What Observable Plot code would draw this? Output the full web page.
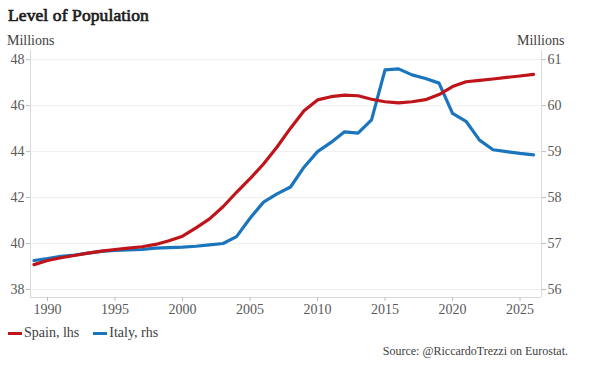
<!DOCTYPE html>
<html>
<head>
<meta charset="utf-8">
<script src="https://cdn.jsdelivr.net/npm/d3@7"></script>
<script src="https://cdn.jsdelivr.net/npm/@observablehq/plot@0.6"></script>
<style>
  html, body { margin: 0; padding: 0; background: #fff; font-family: "Liberation Serif", "Times New Roman", "DejaVu Serif", serif; }
  #wrap { position: relative; width: 606px; height: 378px; font-family: "Liberation Serif", "Times New Roman", "DejaVu Serif", serif; }
  .abs { position: absolute; white-space: nowrap; font-family: "Liberation Serif", "Times New Roman", serif; }
  #title { left: 8px; top: 5px; font-size: 17.5px; font-weight: normal; color: #1c1c1c; -webkit-text-stroke: 0.7px #1c1c1c; letter-spacing: 0.1px; }
  .unit { top: 33px; font-size: 14px; color: #404040; }
  #chart { position: absolute; left: 0; top: 44px; }
  #legend { left: 8px; top: 325px; font-size: 14px; color: #404040; display: flex; align-items: center; }
  .sw { display: inline-block; width: 14px; height: 3px; margin-right: 2px; }
  #source { right: 38px; top: 344px; font-size: 12px; color: #404040; }
  svg text { font-family: "Liberation Serif", "Times New Roman", serif; }
</style>
</head>
<body>
<div id="wrap">
  <div id="title" class="abs">Level of Population</div>
  <div class="abs unit" style="left:7px">Millions</div>
  <div class="abs unit" style="left:517px">Millions</div>
  <div id="chart"></div>
  <div id="legend" class="abs">
    <span class="sw" style="background:#c0141b"></span><span>Spain, lhs</span>
    <span class="sw" style="background:#1a75bc;margin-left:14px"></span><span>Italy, rhs</span>
  </div>
  <div id="source" class="abs">Source: @RiccardoTrezzi on Eurostat.</div>
</div>
<script>
const years = [1989,1990,1991,1992,1993,1994,1995,1996,1997,1998,1999,2000,2001,2002,2003,2004,2005,2006,2007,2008,2009,2010,2011,2012,2013,2014,2015,2016,2017,2018,2019,2020,2021,2022,2023,2024,2025,2026];
const spain = [39.08,39.26,39.38,39.48,39.58,39.67,39.74,39.80,39.86,39.96,40.12,40.32,40.68,41.07,41.60,42.23,42.82,43.46,44.20,45.02,45.78,46.25,46.39,46.46,46.43,46.28,46.17,46.12,46.17,46.26,46.48,46.83,47.04,47.10,47.16,47.23,47.29,47.36];
const italy = [56.63,56.67,56.72,56.75,56.79,56.83,56.85,56.86,56.87,56.90,56.91,56.92,56.94,56.97,57.00,57.15,57.55,57.90,58.08,58.23,58.66,59.00,59.20,59.43,59.40,59.69,60.78,60.80,60.67,60.59,60.49,59.83,59.66,59.25,59.04,59.00,58.96,58.93];
const leftTicks = [38,40,42,44,46,48];
const rightTicks = [56,57,58,59,60,61];
const xTicks = [1990,1995,2000,2005,2010,2015,2020,2025];

// right axis (Italy) mapped onto the left scale: 56 -> 38, 61 -> 48
const toLeft = v => 38 + 2 * (v - 56);
const spainData = years.map((year, i) => ({year, value: spain[i]}));
const italyData = years.map((year, i) => ({year, value: toLeft(italy[i])}));

const xMin = 1988.74, xMax = 2026.59, yMin = 37.65, yMax = 48.4;

const chart = Plot.plot({
  width: 606,
  height: 280,
  marginLeft: 30,
  marginRight: 65,
  marginTop: 6,
  marginBottom: 27,
  x: {domain: [xMin, xMax]},
  y: {domain: [yMin, yMax]},
  style: {fontFamily: "'Liberation Serif', 'Times New Roman', serif", fontSize: "14px", background: "transparent", color: "#595959"},
  marks: [
    Plot.gridY(leftTicks, {stroke: "#efefef", strokeOpacity: 1}),
    Plot.ruleX([xMin, xMax], {stroke: "#d9d9d9"}),
    Plot.ruleY([yMin], {stroke: "#d9d9d9"}),
    Plot.axisY(leftTicks, {anchor: "left", tickSize: 4, tickPadding: 2, stroke: "#bdbdbd", fill: "#595959", label: null}),
    Plot.axisY(rightTicks.map(toLeft), {anchor: "right", tickSize: 4, tickPadding: 2, stroke: "#bdbdbd", fill: "#595959", label: null,
      tickFormat: d => String(rightTicks[leftTicks.indexOf(d)])}),
    Plot.axisX(xTicks, {tickSize: 4, tickPadding: 3, stroke: "#bdbdbd", fill: "#595959", label: null, tickFormat: d => String(d)}),
    Plot.lineY(italyData, {x: "year", y: "value", stroke: "#1a75bc", strokeWidth: 3.2}),
    Plot.lineY(spainData, {x: "year", y: "value", stroke: "#c0141b", strokeWidth: 3.2})
  ]
});
document.getElementById("chart").appendChild(chart);
</script>
</body>
</html>
